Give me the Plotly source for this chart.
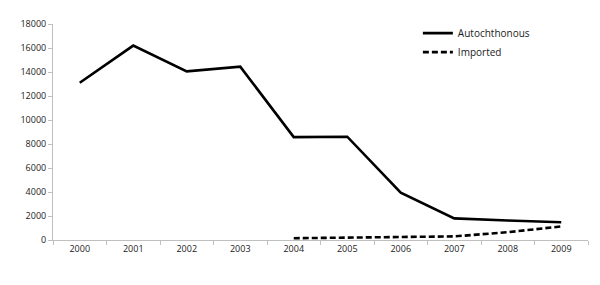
import plotly.graph_objects as go

years = ["2000", "2001", "2002", "2003", "2004", "2005", "2006", "2007", "2008", "2009"]
autochthonous = [13100, 16200, 14050, 14450, 8570, 8610, 3940, 1800, 1620, 1480]
imported_years = ["2004", "2005", "2006", "2007", "2008", "2009"]
imported = [150, 200, 190, 300, 650, 1130]
y_ticks = list(range(0, 18001, 2000))
y_tick_text = [str(v) for v in y_ticks]

font_family = "Open Sans, Liberation Sans, sans-serif"

fig = go.Figure()
fig.add_trace(go.Scatter(x=years, y=autochthonous, mode="lines", name="Autochthonous",
                         line=dict(color="black", width=2.6)))
fig.add_trace(go.Scatter(x=imported_years, y=imported, mode="lines", name="Imported",
                         line=dict(color="black", width=2.6, dash="6px,3px")))

fig.update_layout(
    width=600, height=285,
    margin=dict(l=53, r=12, t=24, b=45),
    paper_bgcolor="white", plot_bgcolor="white",
    font=dict(family=font_family, size=9, color="#222222"),
    showlegend=True,
    legend=dict(x=0.682, y=1.025, xanchor="left", yanchor="top",
                bgcolor="rgba(0,0,0,0)", font=dict(size=10, color="#1a1a1a"),
                tracegroupgap=0, itemwidth=30),
    xaxis=dict(type="category", categoryorder="array", categoryarray=years,
               range=[-0.5, 9.5], showgrid=False, showline=True, linecolor="#bfbfbf",
               linewidth=1, ticks="outside", tickson="boundaries", ticklen=4,
               tickcolor="#bfbfbf", tickfont=dict(size=9, color="#222222"), zeroline=False),
    yaxis=dict(range=[0, 18000], tickmode="array", tickvals=y_ticks, ticktext=y_tick_text,
               showgrid=False, showline=True,
               linecolor="#bfbfbf", linewidth=1, ticks="outside", ticklen=4,
               tickcolor="#bfbfbf", tickfont=dict(size=9, color="#222222"), zeroline=False),
)

fig.write_html("out.html")
